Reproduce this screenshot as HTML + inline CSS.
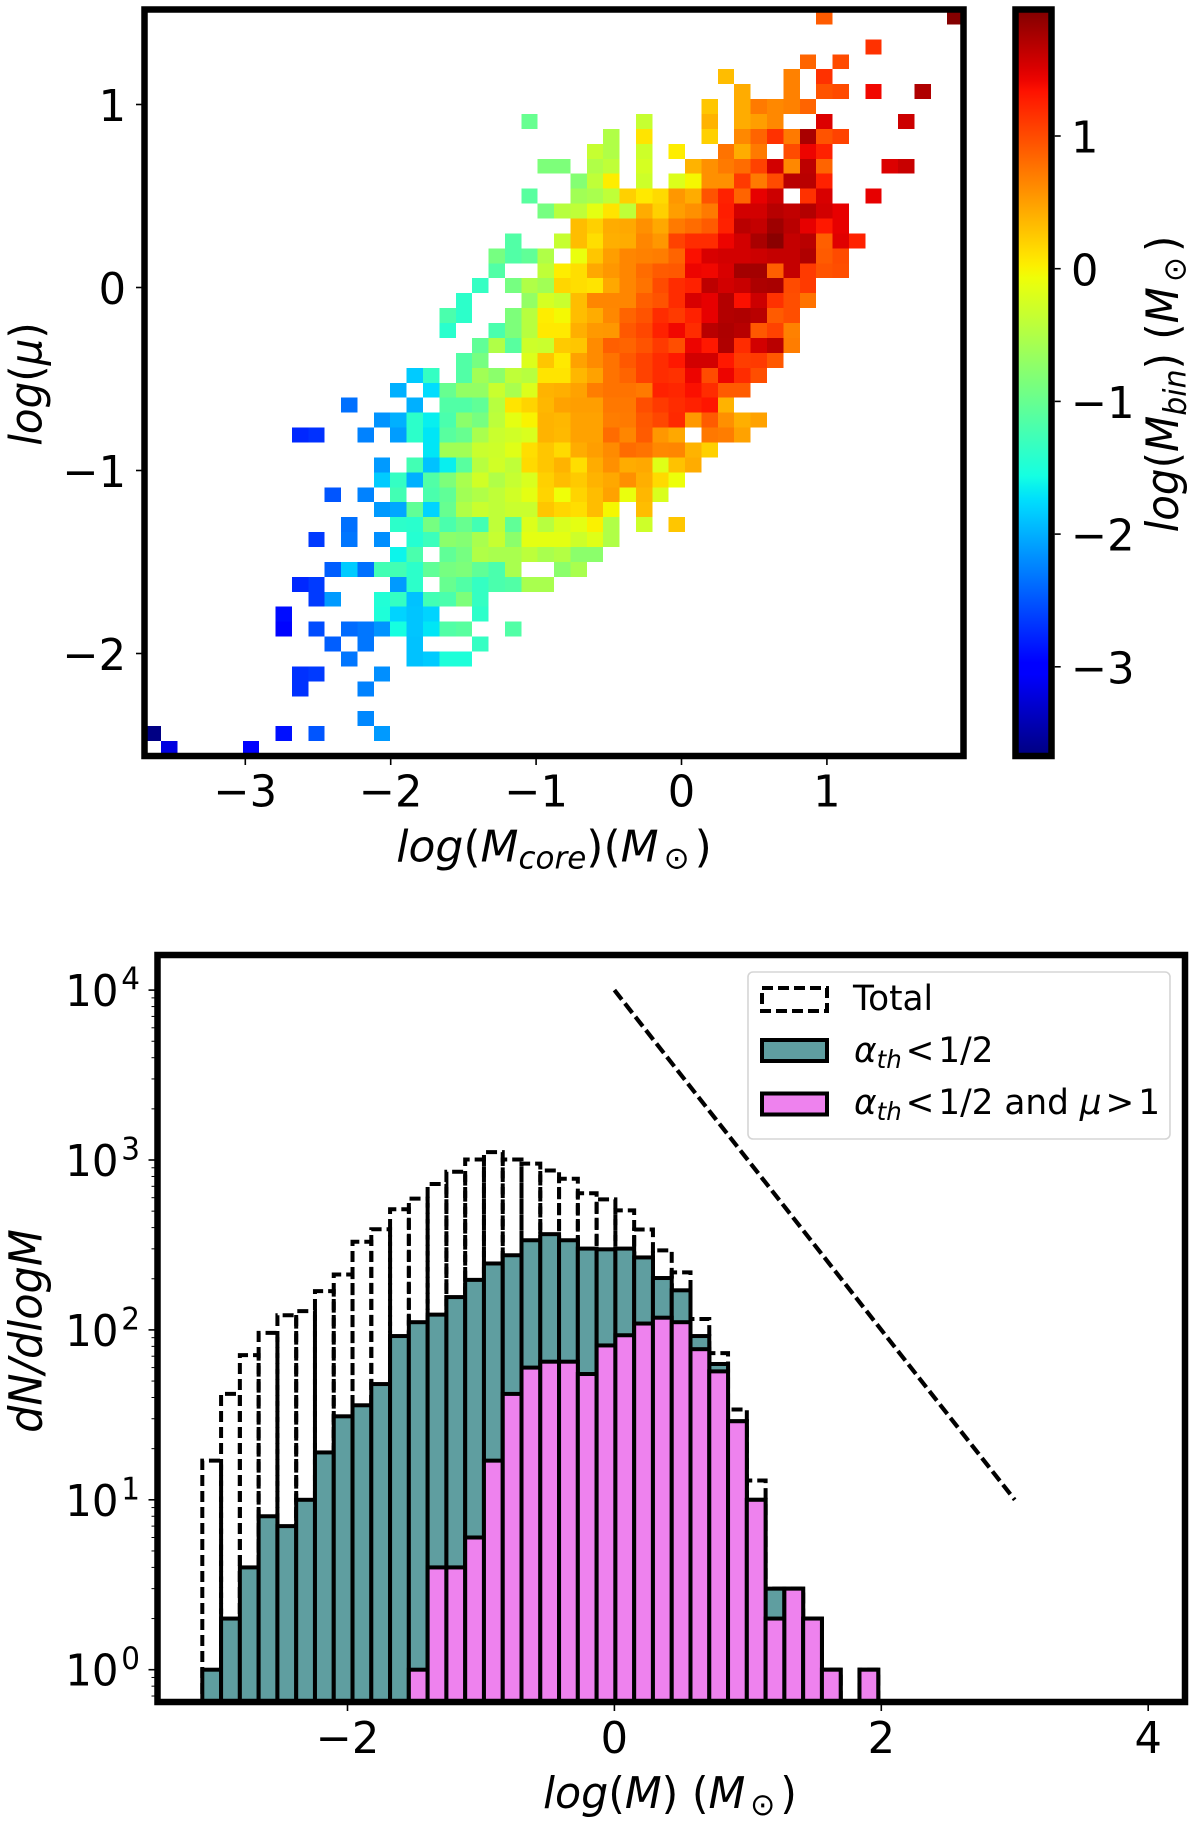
<!DOCTYPE html>
<html lang="en">
<head>
<meta charset="utf-8">
<title>Core mass and mu distributions</title>
<style>
html,body{margin:0;padding:0;background:#fff;}
svg{display:block;}
text{font-family:"DejaVu Sans","Liberation Sans",sans-serif;fill:#000;}
.math{font-style:italic;}
.up{font-style:normal;}
</style>
</head>
<body>
<svg id="figure" xmlns="http://www.w3.org/2000/svg" width="1200" height="1826" viewBox="0 0 1200 1826">
  <defs>
    <linearGradient id="jetGradient" x1="0" y1="1" x2="0" y2="0"></linearGradient>
    <clipPath id="histClip"><rect x="157.5" y="955" width="1027.5" height="747"></rect></clipPath>
  </defs>
  <rect x="0" y="0" width="1200" height="1826" fill="#fff"></rect>

  <g id="heatmap"></g>
  <rect x="144.5" y="9.5" width="819" height="746.5" fill="none" stroke="#000" stroke-width="6.5"></rect>
  <g id="heatmapAxes"></g>
  <text class="math" font-size="44" text-anchor="middle" transform="translate(554,861.5) scale(1,1)">log<tspan class="up">(</tspan>M<tspan font-size="31" dy="7">core</tspan><tspan class="up" dy="-7">)(</tspan>M<tspan class="up" font-size="31" dy="7" dx="5">⊙</tspan><tspan class="up" dy="-7" dx="5">)</tspan></text>
  <text class="math" font-size="42" text-anchor="middle" transform="translate(41.5,384) scale(1.05,1) rotate(-90)">log<tspan class="up">(</tspan>μ<tspan class="up">)</tspan></text>

  <rect x="1015.5" y="9.5" width="36" height="746.5" fill="url(#jetGradient)" stroke="#000" stroke-width="6.5"></rect>
  <g id="colorbarAxis"></g>
  <text class="math" font-size="42" text-anchor="middle" transform="translate(1178,384) scale(1.05,1) rotate(-90)">log<tspan class="up">(</tspan>M<tspan font-size="30" dy="7">bin</tspan><tspan class="up" dy="-7">) (</tspan>M<tspan class="up" font-size="30" dy="7" dx="5">⊙</tspan><tspan class="up" dy="-7" dx="5">)</tspan></text>

  <g id="histBars" clip-path="url(#histClip)"></g>
  <path id="slopeLine" fill="none" stroke="#000" stroke-width="4.2" stroke-dasharray="12 5"></path>
  <rect x="157.5" y="955" width="1027.5" height="747" fill="none" stroke="#000" stroke-width="6.5"></rect>
  <g id="histAxes"></g>
  <text class="math" font-size="44" text-anchor="middle" transform="translate(670,1808) scale(0.97,1)">log<tspan class="up">(</tspan>M<tspan class="up">) (</tspan>M<tspan class="up" font-size="31" dy="7" dx="5">⊙</tspan><tspan class="up" dy="-7" dx="5">)</tspan></text>
  <text class="math" font-size="43" text-anchor="middle" transform="translate(41.5,1331) scale(1.05,1) rotate(-90)">dN/dlogM</text>

  <g>
    <rect x="748" y="972" width="422" height="167" rx="5" ry="5" fill="#fff" fill-opacity="0.8" stroke="#d5d5d5" stroke-width="1.6"></rect>
    <rect x="762" y="988" width="65" height="23" fill="none" stroke="#000" stroke-width="4" stroke-dasharray="11 5"></rect>
    <rect x="762" y="1040" width="65" height="21" fill="#5f9ea0" stroke="#000" stroke-width="4"></rect>
    <rect x="762" y="1093.5" width="65" height="21" fill="#ee82ee" stroke="#000" stroke-width="4"></rect>
    <text font-size="35" transform="translate(853,1010) scale(0.98,1)">Total</text>
    <text font-size="35" transform="translate(854,1062) scale(0.98,1)"><tspan class="math">α</tspan><tspan class="math" font-size="25" dy="6">th</tspan><tspan dy="-6" dx="4">&lt;</tspan><tspan dx="4">1/2</tspan></text>
    <text font-size="35" transform="translate(854,1114) scale(0.98,1)"><tspan class="math">α</tspan><tspan class="math" font-size="25" dy="6">th</tspan><tspan dy="-6" dx="4">&lt;</tspan><tspan dx="4">1/2 and </tspan><tspan class="math">μ</tspan><tspan dx="4">&gt;</tspan><tspan dx="4">1</tspan></text>
  </g>
</svg>
<script>
const _ = null;

/* ---------- heatmap data: first occupied column per row, then log(Mbin) per column ---------- */
const gridRowStart = [41,0,44,40,35,36,34,23,28,27,24,26,23,24,26,22,21,21,20,19,18,18,20,19,16,15,12,14,9,17,14,14,11,14,12,10,15,11,9,10,8,8,11,12,9,9,0,13,0,1];
const gridRowValues = [
[.9,_,_,_,_,_,_,_,1.93],
[],
[1.15],
[.85,_,1.0],
[.25,_,_,_,.65,_,1.15],
[.35,_,_,.65,_,.95,1.0,_,1.4,_,_,1.72],
[.2,_,.35,.7,.6,.65,.85],
[-1.0,_,_,_,_,_,_,-.35,_,_,_,.3,_,.35,.45,.6,_,_,1.5,_,_,_,_,1.58],
[-.5,_,.05,_,_,_,.15,_,.6,.85,1.15,.7,1.75,.95,1.05],
[-.35,-.5,_,-.3,_,0,_,_,.75,.35,.7,_,1.0,1.42,1.25],
[-.85,-.85,_,-.5,-.4,_,-.25,_,_,.3,.55,.7,.8,1.05,1.55,.6,1.65,.85,_,_,_,1.5,1.6],
[-.8,-.4,0,_,-.3,_,-.2,-.05,.55,.55,1.1,.7,1.0,1.67,1.67,1.25],
[-1.1,_,_,-.6,-.55,-.4,.15,.02,.1,.5,.35,.95,1.25,.85,1.45,1.58,_,1.15,1.52,_,_,1.45],
[-.9,-.45,-.4,-.15,.05,-.4,.35,.15,.45,.55,.7,1.27,1.55,1.55,1.68,1.63,1.7,1.55,1.45],
[.25,.15,.35,.38,.55,.38,.7,.8,.9,1.25,1.67,1.62,1.8,1.67,1.45,1.3,1.45],
[-1.15,_,_,-.35,.25,.08,.33,.35,.62,.5,1.05,1.18,1.18,1.42,1.55,1.75,1.9,1.62,1.67,.88,1.48,1.25],
[-.9,-1.15,-1.05,-.5,_,-.12,.2,.45,.62,.65,.68,.85,1.35,1.52,1.55,1.55,1.58,1.62,1.62,1.72,.9,1.0],
[-1.15,_,_,-.4,0,.08,.38,.5,.62,.8,.9,.92,1.42,1.4,1.52,1.78,1.78,.88,1.62,1.1,.95,.98],
[-1.35,_,-.9,-.5,-.6,.12,.08,.05,.38,.62,.75,1.0,1.18,1.25,1.65,1.55,1.6,1.73,1.75,1.0,1.1],
[-1.4,_,_,_,-.7,-.25,-.33,.25,.62,.62,.62,.88,.95,1.18,1.52,1.45,1.7,1.35,1.58,1.15,.98,.75],
[-1.2,-1.4,_,_,-.85,-.45,0,-.06,.25,.35,.6,.85,.95,1.18,1.1,1.25,1.45,1.7,1.72,1.67,.9,.98],
[-1.42,_,_,-1.2,-.85,-.45,.02,.02,.33,.48,.5,.92,1.02,1.25,1.4,1.18,1.67,1.73,1.68,.92,1.05,.65],
[-1.05,-.5,-1.1,-.3,-.33,.18,.2,.58,.88,.85,.95,1.1,.98,1.42,1.3,1.72,1.18,1.55,1.67,.68],
[-1.15,-.9,_,_,-.2,.2,.02,.42,.58,.75,.92,1.05,1.18,1.3,1.55,1.55,1.3,1.08,1.1,.92],
[-1.85,-1.35,_,-1.15,-.6,-.75,-.4,-.45,.05,.05,.28,.42,.75,.85,1.05,1.18,1.15,1.42,1.0,1.42,1.18,.98],
[-2.0,_,-1.75,-1.0,-.7,-.7,-.33,-.55,-.2,.3,.33,.42,.68,.75,.75,.7,1.25,1.22,1.35,1.18,.9,.9],
[-2.35,_,_,_,-2.0,_,-1.15,-1.15,-1.05,-.45,.05,.13,.28,.42,.45,.45,.72,.72,.98,1.1,1.18,1.25,1.32,.3],
[-2.15,-2.0,-1.4,-1.65,-1.2,-.75,-.9,-.42,-.15,-.03,.3,.28,.42,.42,.68,.7,.92,1.02,1.2,.48,.9,.55,.33,.42],
[-2.75,-2.7,_,_,-2.25,_,-2.1,-1.4,-1.7,-1.1,-1.0,-.55,-.33,-.28,-.22,.3,.27,.42,.42,.8,.62,.9,.5,.38,_,.72,.68,.42],
[-1.7,-.6,-.6,-.33,-.3,-.18,.08,.2,.1,.35,.45,.58,.8,.75,.6,.62,.3,.15],
[-2.12,_,-1.25,-1.9,-1.65,-1.1,-.45,-.28,-.4,.1,.2,.3,.08,.35,.55,.35,.38,-.18,.22,.35],
[-1.85,-1.35,-2.0,-1.15,-.85,-.55,-.28,-.5,-.35,-.22,.15,.25,.18,.3,.38,.55,.33,.1,-.1],
[-2.5,_,-2.25,_,-1.25,_,-1.2,-1.05,-.6,-.5,-.4,-.28,-.15,.13,-.09,.13,.25,.42,-.12,.28,-.22],
[-2.12,-2.05,-1.05,-1.8,-1.0,-.5,-.33,-.4,-.33,-.33,.2,.12,.08,.25,-.05,_,.25],
[-2.35,_,_,-1.4,-1.42,-.9,-1.2,-1.0,-1.25,-.4,-1.05,-.2,-.45,-.22,-.15,-.02,-.5,_,-.3,_,.2],
[-2.65,_,-2.32,_,-2.18,_,-1.45,-1.3,-.75,-.8,-.55,-.35,-.75,-.15,-.15,-.15,-.3,-.18,-.5],
[-1.62,-1.2,_,-1.05,-.9,-.5,-.55,-.55,-.42,-.55,-.48,-.75,-.75],
[-2.45,-1.85,-2.35,-1.25,-1.25,-1.4,-1.05,-.9,-.85,-1.05,-1.2,-.55,_,_,-.75,-.55],
[-2.75,-2.65,_,_,_,_,-2.12,-1.4,_,-1.0,-1.15,-1.35,-1.2,-1.15,-.55,-.55],
[-2.65,-2.12,_,_,-1.48,-1.35,-1.9,-1.25,-1.2,-.85,-1.35],
[-2.9,_,_,_,_,_,-1.5,-1.8,-1.88,-1.8,_,_,-1.4],
[-2.95,_,-2.55,_,-2.38,-2.32,-2.15,-1.55,-1.88,-1.7,-1.15,-1.1,_,_,-1.15],
[-2.45,_,-2.32,_,_,-1.9,_,_,_,-1.35],
[-2.32,_,_,_,-1.9,-1.85,-1.5,-1.5],
[-2.7,-2.65,_,_,_,-2.18],
[-2.7,_,_,_,-2.25],
[],
[-2.22],
[-3.65,_,_,_,_,_,_,_,-2.88,_,-2.5,_,_,_,-2.12],
[-3.2,_,_,_,_,-3.03]
];
const coreTicks = [-3,-2,-1,0,1];
const muTicks = [1,0,-1,-2];
const colorbarTicks = [1,0,-1,-2,-3];

/* ---------- histogram data ---------- */
const binStart = -3.088;
const binWidth = 0.1407;
const totalCounts = [17,42,71,96,122,129,169,212,330,391,513,592,722,853,1007,1113,1007,952,867,776,637,586,505,390,294,218,116,73,34,13,3,3,2,1,0,1];
const thermalCounts = [1,2,4,8,7,10,19,31,36,48,92,111,123,156,197,246,275,337,366,337,301,298,301,267,202,171,92,63,29,10,3,3,2,1,0,1];
const thermalMuCounts = [0,0,0,0,0,0,0,0,0,0,0,1,4,4,6,17,42,60,65,65,55,81,93,109,118,111,77,57,29,10,2,3,2,1,0,1];
const slopeX = [0,3];
const slopeY = [10000,10];
const massTicks = [-2,0,2,4];
const decadeTicks = [0,1,2,3,4];
const minorMultiples = [2,3,4,5,6,7,8,9];

/* ---------- axis functions ---------- */
function xCore(v){ return 681.5 + 145.4 * v; }
function yMu(v){ return 287.5 - 183 * v; }
function yBar(v){ return 1669.7 - 169.9 * (Math.log(v) / Math.LN10); }
function xMass(v){ return 614.4 + 133.45 * v; }
function yCbar(v){ return 268.7 - 132.7 * v; }
const coreMin = -3.693, coreMax = 1.940, muMax = 1.519, muMin = -2.560;
const cbMin = -3.67, cbMax = 1.95;
const gridCols = 50, gridRows = 50;
function colEdge(i){ return xCore(coreMin + (coreMax - coreMin) * i / gridCols); }
function rowEdge(j){ return yMu(muMax - (muMax - muMin) * j / gridRows); }

function interp(stops, t){
  for (let k = 1; k < stops.length; k++) {
    if (t <= stops[k][0]) {
      const a = stops[k-1], b = stops[k];
      return a[1] + (b[1] - a[1]) * (t - a[0]) / (b[0] - a[0]);
    }
  }
  return stops[stops.length-1][1];
}
const jetR = [[0,0],[0.35,0],[0.66,1],[0.89,1],[1,0.5]];
const jetG = [[0,0],[0.125,0],[0.375,1],[0.64,1],[0.91,0],[1,0]];
const jetB = [[0,0.5],[0.11,1],[0.34,1],[0.65,0],[1,0]];
function jet(t){
  t = Math.max(0, Math.min(1, t));
  return 'rgb(' + Math.round(255*interp(jetR,t)) + ',' + Math.round(255*interp(jetG,t)) + ',' + Math.round(255*interp(jetB,t)) + ')';
}
/* my colour readings ran slightly low in the yellow-orange band; a small lift corrects them */
function massColor(v){
  const lifted = v + 0.08 * Math.max(0, 1 - Math.abs(v - 0.3) / 0.5);
  return jet((lifted - cbMin) / (cbMax - cbMin));
}

const NS = 'http://www.w3.org/2000/svg';
function svgEl(tag, attrs, parent){
  const el = document.createElementNS(NS, tag);
  for (const k in attrs) el.setAttribute(k, attrs[k]);
  parent.appendChild(el);
  return el;
}
function tickLabel(parent, str, x, y, anchor){
  const el = svgEl('text', {'font-size':44, 'text-anchor':anchor, transform:'translate(' + x + ',' + y + ') scale(0.98,1)'}, parent);
  el.textContent = str;
  return el;
}
function fmt(v){ return v < 0 ? '\u2212' + Math.abs(v) : String(v); }

/* ---------- heatmap ---------- */
const heatmap = document.getElementById('heatmap');
gridRowValues.forEach(function(row, j){
  row.forEach(function(v, k){
    if (v === null) return;
    const i = gridRowStart[j] + k;
    const cell = svgEl('rect', {x:colEdge(i), y:rowEdge(j), width:colEdge(i+1)-colEdge(i), height:rowEdge(j+1)-rowEdge(j), fill:massColor(v), 'shape-rendering':'crispEdges'}, heatmap);
    
    
  });
});

const heatAxes = document.getElementById('heatmapAxes');
coreTicks.forEach(function(v){
  const t = svgEl('line', {x1:xCore(v), x2:xCore(v), y1:759, y2:765, stroke:'#000', 'stroke-width':1.6}, heatAxes);
  
  
  const l = tickLabel(heatAxes, fmt(v), xCore(v), 806.5, 'middle');
  
  
});
muTicks.forEach(function(v){
  const t = svgEl('line', {x1:136, x2:142, y1:yMu(v), y2:yMu(v), stroke:'#000', 'stroke-width':1.6}, heatAxes);
  
  
  const l = tickLabel(heatAxes, fmt(v), 126, yMu(v)+16.3, 'end');
  
  
});

/* ---------- colorbar ---------- */
const grad = document.getElementById('jetGradient');
for (let s = 0; s <= 64; s++) {
  const stop = svgEl('stop', {offset:(s/64), 'stop-color':jet(s/64)}, grad);
  
  
}
const cbAxis = document.getElementById('colorbarAxis');
colorbarTicks.forEach(function(v){
  const t = svgEl('line', {x1:1054.7, x2:1060.7, y1:yCbar(v), y2:yCbar(v), stroke:'#000', 'stroke-width':1.6}, cbAxis);
  
  
  const l = tickLabel(cbAxis, fmt(v), 1071, yCbar(v)+16.6, 'start');
  
  
});

/* ---------- histogram ---------- */
const barsG = document.getElementById('histBars');
const barBottom = 1710;
function barEdge(k){ return xMass(binStart + binWidth * k); }
totalCounts.forEach(function(c, k){
  if (c <= 0) return;
  const d = 'M' + barEdge(k) + ' ' + barBottom + 'L' + barEdge(k) + ' ' + yBar(c) + 'L' + barEdge(k+1) + ' ' + yBar(c) + 'L' + barEdge(k+1) + ' ' + barBottom;
  const p = svgEl('path', {d:d, fill:'none', stroke:'#000', 'stroke-width':4, 'stroke-dasharray':'11 5'}, barsG);
  
  
});
thermalCounts.forEach(function(c, k){
  if (c <= 0) return;
  const r = svgEl('rect', {x:barEdge(k), y:yBar(c), width:barEdge(k+1)-barEdge(k), height:barBottom-yBar(c), fill:'#5f9ea0', stroke:'#000', 'stroke-width':4}, barsG);
  
  
});
thermalMuCounts.forEach(function(c, k){
  if (c <= 0) return;
  const r = svgEl('rect', {x:barEdge(k), y:yBar(c), width:barEdge(k+1)-barEdge(k), height:barBottom-yBar(c), fill:'#ee82ee', stroke:'#000', 'stroke-width':4}, barsG);
  
  
});

document.getElementById('slopeLine').setAttribute('d', 'M' + xMass(slopeX[0]) + ' ' + yBar(slopeY[0]) + 'L' + xMass(slopeX[1]) + ' ' + yBar(slopeY[1]));

const histAxes = document.getElementById('histAxes');
massTicks.forEach(function(v){
  const t = svgEl('line', {x1:xMass(v), x2:xMass(v), y1:1705, y2:1711, stroke:'#000', 'stroke-width':1.6}, histAxes);
  
  
  const l = tickLabel(histAxes, fmt(v), xMass(v), 1753, 'middle');
  
  
});
decadeTicks.forEach(function(e){
  const y = yBar(Math.pow(10, e));
  const t = svgEl('line', {x1:148.5, x2:154.5, y1:y, y2:y, stroke:'#000', 'stroke-width':1.6}, histAxes);
  
  
  const l = svgEl('text', {'font-size':44, 'text-anchor':'end', transform:'translate(140,' + (y+16) + ') scale(0.95,1)'}, histAxes);
  
  
  const base = svgEl('tspan', {}, l);
  base.textContent = '10';
  const sup = svgEl('tspan', {'font-size':31, dy:-16.5, dx:3}, l);
  sup.textContent = String(e);
});
[-1,0,1,2,3,4].forEach(function(e){
  minorMultiples.forEach(function(m){
    const val = m * Math.pow(10, e);
    const y = yBar(val);
    if (y < 958 || y > 1699) return;
    const t = svgEl('line', {x1:151.5, x2:154.5, y1:y, y2:y, stroke:'#000', 'stroke-width':1}, histAxes);
    
    
  });
});
</script>
</body>
</html>
